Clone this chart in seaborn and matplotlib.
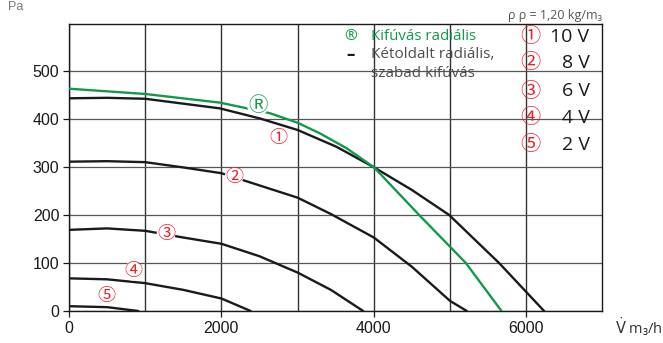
import pandas as pd
import seaborn as sns
import matplotlib.pyplot as plt

sns.set_theme(style='ticks')
plt.rcParams['font.family'] = ['Liberation Sans', 'DejaVu Sans']

# curves (airflow m3/h, pressure Pa)
green_x = [0, 1000, 1980, 2636, 3000, 3292, 3642, 4004, 4594, 5207, 5675]
green_y = [463, 452, 434, 412, 392, 370, 339, 299, 200, 100, 0]
v10_x = [0, 500, 1000, 1980, 2505, 3000, 3510, 4004, 4500, 4988, 5643, 6234]
v10_y = [443, 444, 442, 422, 401, 377, 342, 299, 252, 200, 100, 0]
v8_x = [0, 500, 1000, 1500, 2000, 3000, 3436, 4000, 4500, 5000, 5220]
v8_y = [311, 312, 310, 299, 287, 236, 202, 153, 92, 21, 0]
v6_x = [0, 500, 1000, 1500, 2000, 2500, 3000, 3436, 3860]
v6_y = [169, 172, 167, 153, 140, 114, 80, 44, 0]
v4_x = [0, 500, 1000, 1500, 2000, 2383]
v4_y = [68, 66, 58, 44, 26, 0]
v2_x = [0, 500, 909]
v2_y = [10, 8, 0]

curve_marks = ['①', '②', '③', '④', '⑤']
volt_labels = ['10 V', '8 V', '6 V', '4 V', '2 V']
mark_x = [2741, 2164, 1272, 839, 485]
mark_y = [360, 279, 160, 83, 31]

GREEN = '#119a4a'
RED = '#e8202a'
CJK = ['Noto Sans CJK JP', 'DejaVu Sans']
OPEN = ['Open Sans', 'DejaVu Sans']

fig = plt.figure(figsize=(6.63, 3.43), dpi=100)
ax = fig.add_axes([0.1041, 0.0933, 0.8046, 0.8357])

for xs, ys in [(v10_x, v10_y), (v8_x, v8_y), (v6_x, v6_y), (v4_x, v4_y), (v2_x, v2_y)]:
    df = pd.DataFrame({'q': xs, 'p': ys})
    sns.lineplot(data=df, x='q', y='p', ax=ax, color='#1a1a1a', lw=1.7,
                 sort=False, estimator=None, zorder=3)
df = pd.DataFrame({'q': green_x, 'p': green_y})
sns.lineplot(data=df, x='q', y='p', ax=ax, color=GREEN, lw=1.7,
             sort=False, estimator=None, zorder=3)

ax.set_xlim(0, 7000)
ax.set_ylim(0, 597)
ax.set_xticks([0, 2000, 4000, 6000])
ax.set_xticks(range(1000, 7000, 1000), minor=True)
ax.set_yticks([0, 100, 200, 300, 400, 500])
ax.grid(True, which='major', axis='x', color='#333333', lw=1.0)
ax.grid(True, which='minor', axis='x', color='#333333', lw=1.0)
ax.grid(True, which='major', axis='y', color='#555555', lw=0.9)
ax.tick_params(axis='both', which='major', length=4, width=0.9, pad=3,
               labelsize=11.5, colors='#1a1a1a')
ax.tick_params(axis='x', which='minor', length=0)
for s in ax.spines.values():
    s.set_color('#1a1a1a')
    s.set_linewidth(1.0)
ax.set_xlabel('')
ax.set_ylabel('')

# curve markers on the chart
for m, x, y in zip(curve_marks, mark_x, mark_y):
    ax.text(x, y, m, color=RED, fontsize=13, family=CJK, ha='center', va='center',
            zorder=4, bbox=dict(boxstyle='circle,pad=0.02', fc='white', ec='none'))
ax.text(2479, 429, 'Ⓡ', color=GREEN, fontsize=14, family=CJK, ha='center', va='center',
        zorder=4, bbox=dict(boxstyle='circle,pad=0.02', fc='white', ec='none'))

# voltage legend at the right
leg_y = [571, 517, 458, 402, 346]
for m, lab, y in zip(curve_marks, volt_labels, leg_y):
    ax.text(6059, y, m, color=RED, fontsize=14.5, family=CJK, ha='center', va='center', zorder=4)
    ax.text(6830, y, lab, color='#1a1a1a', fontsize=14, family=OPEN,
            ha='right', va='center', zorder=4)

# top legend
ax.text(3690, 572, '®', color=GREEN, fontsize=11, family=OPEN, ha='center', va='center')
ax.text(3960, 572, 'Kifúvás radiális', color=GREEN, fontsize=10.8, family=OPEN,
        ha='left', va='center')
ax.text(3690, 534, '–', color='#1a1a1a', fontsize=12, family=OPEN,
        ha='center', va='center', fontweight='bold')
ax.text(3960, 534, 'Kétoldalt radiális,', color='#4d4d4d', fontsize=11, family=OPEN,
        ha='left', va='center')
ax.text(3960, 495, 'szabad kifúvás', color='#4d4d4d', fontsize=11, family=OPEN,
        ha='left', va='center')

fig.text(0.908, 0.956, 'ρ ρ = 1,20 kg/m₃', color='#555555', fontsize=9,
         family=OPEN, ha='right', va='center')
fig.text(0.928, 0.047, r'$\dot{\mathrm{V}}$ m₃/h', color='#333333', fontsize=10.5,
         family=OPEN, ha='left', va='center')
fig.text(0.012, 0.997, 'Pa', color='#777777', fontsize=9, ha='left', va='top')

fig.savefig('out.png', dpi=100)
